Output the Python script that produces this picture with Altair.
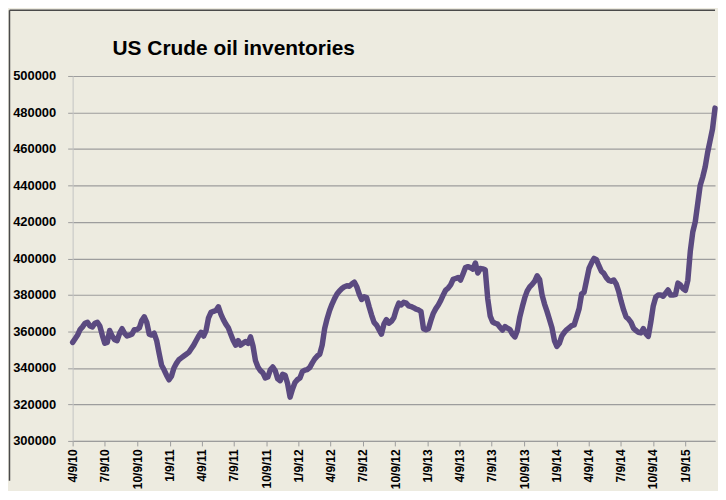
import altair as alt
import pandas as pd

TITLE = "US Crude oil inventories"
START_DATE = "2010-04-09"

# Weekly US crude oil inventories (thousand barrels)
inventory = [
    354000, 356000, 358000, 361000, 362500, 364500, 365000, 363000, 362500, 364500,
    365000, 363000, 358000, 353500, 354000, 360500, 357500, 355500, 355000, 359000,
    361500, 359000, 357500, 358000, 358500, 361000, 361000, 362000, 366000, 368000,
    365000, 358500, 358000, 359000, 355000, 348000, 341500, 339000, 336000, 333500,
    335500, 340000, 342500, 344500, 345500, 346500, 347500, 348500, 350500, 352500,
    355000, 357500, 359500, 357500, 360500, 367500, 370500, 371000, 371500, 373500,
    369500, 366500, 364000, 362000, 358500, 355000, 352500, 355000, 352500, 353500,
    354500, 353500, 357000, 352000, 344000, 340500, 338500, 337300, 334500, 335000,
    339000, 340500, 338500, 334000, 333000, 336500, 336000, 331500, 324000, 328500,
    332000, 333600, 334500, 338000, 338800, 339100, 340300, 342800, 345000, 346500,
    347500, 352500, 361500, 367000, 371500, 375000, 378000, 380500, 382200, 383500,
    384500, 385000, 384800, 386000, 387000, 384500, 380500, 377500, 379000, 378500,
    373500, 369000, 365000, 363500, 361000, 358500, 364000, 366500, 364500, 365500,
    367500, 372000, 375500, 374500, 376000, 375500, 374000, 373600, 373000, 372200,
    371800, 370900, 361500, 360900, 361500, 366000, 370000, 372500, 374500, 377000,
    380000, 382700, 383800, 385500, 388500, 389000, 389500, 388200, 391500, 395000,
    395500, 395000, 394200, 397500, 392000, 394500, 394300, 393800, 378000, 368500,
    365200, 364500, 364000, 362200, 360800, 362700, 361800, 361000, 358500, 357000,
    360500, 368000, 373500, 378500, 382200, 384400, 385800, 387500, 390500, 388500,
    380000, 375000, 371000, 366500, 362000, 355000, 351800, 353500, 357500, 359500,
    361000, 362000, 363200, 363600, 368000, 372500, 380500, 381500, 388000, 394500,
    397500, 400000, 399300, 396000, 393000, 391800, 389500, 388000, 387500, 388200,
    386000, 382000, 376500, 371800, 368000, 366800, 365000, 361800, 360500, 359500,
    359200, 361500, 358800, 357300, 365000, 374000, 378800, 380000, 380000, 379300,
    381000, 382700, 380000, 380000, 380200, 386500, 385500, 383500, 382500, 388000,
    404000, 414500, 420000, 430000, 440000, 444500, 450000, 458000, 464500, 471000,
    482400,
]

y_ticks = [300000, 320000, 340000, 360000, 380000, 400000,
           420000, 440000, 460000, 480000, 500000]

# x tick labels: (year, month, day)
tick_dates = [
    (2010, 4, 9), (2010, 7, 9), (2010, 10, 9),
    (2011, 1, 9), (2011, 4, 9), (2011, 7, 9), (2011, 10, 9),
    (2012, 1, 9), (2012, 4, 9), (2012, 7, 9), (2012, 10, 9),
    (2013, 1, 9), (2013, 4, 9), (2013, 7, 9), (2013, 10, 9),
    (2014, 1, 9), (2014, 4, 9), (2014, 7, 9), (2014, 10, 9),
    (2015, 1, 9),
]

dates = pd.date_range(START_DATE, periods=len(inventory), freq="7D")
df = pd.DataFrame({"date": dates, "stocks": inventory})
last = dates[-1]

W, H = 646, 367
FONT = "Liberation Sans, Arial, sans-serif"
GRID = "#9d9d9d"

x_values = [alt.DateTime(year=y, month=m, date=d) for (y, m, d) in tick_dates]

line = alt.Chart(df).mark_line(
    color="#5b4a80", strokeWidth=5.5, strokeJoin="round", strokeCap="round"
).encode(
    x=alt.X(
        "date:T",
        scale=alt.Scale(domain=[alt.DateTime(year=2010, month=4, date=9),
                                alt.DateTime(year=last.year, month=last.month, date=last.day)]),
        axis=alt.Axis(values=x_values, format="%-m/%-d/%y", labelAngle=-90,
                      title=None, grid=False, tickSize=5, labelPadding=3,
                      labelFontSize=12,
                      domainColor=GRID, tickColor=GRID),
    ),
    y=alt.Y(
        "stocks:Q",
        scale=alt.Scale(domain=[300000, 500000], nice=False, zero=False),
        axis=alt.Axis(values=y_ticks, format="d", title=None, grid=True,
                      gridColor=GRID, gridWidth=1.2, tickSize=5, labelPadding=12,
                      labelFontSize=13,
                      domainColor="#c4c4c4", tickColor=GRID),
    ),
)

frame_data = alt.Data(values=[{"k": 0}])
left_rule = alt.Chart(frame_data).mark_rule(color="#4a4a4a", strokeWidth=1.5).encode(
    x=alt.value(-63.5), y=alt.value(-66), y2=alt.value(H + 40)
)
top_rule = alt.Chart(frame_data).mark_rule(color="#4a4a4a", strokeWidth=1.5).encode(
    x=alt.value(-63.5), x2=alt.value(W), y=alt.value(-66)
)
title_text = alt.Chart(alt.Data(values=[{"t": TITLE}])).mark_text(
    font=FONT, fontSize=21, fontWeight="bold", color="black",
    align="center", baseline="alphabetic",
).encode(
    x=alt.value(162), y=alt.value(-21), text="t:N"
)

chart = alt.layer(line, left_rule, top_rule, title_text).properties(
    width=W,
    height=H,
    background="#edebe0",
    padding={"left": 0, "top": 0, "right": 0, "bottom": 0},
).configure_view(
    stroke=None
).configure_axis(
    labelFont=FONT, labelFontWeight="bold", labelColor="black",
)

chart.save("out.html", embed_options={"renderer": "svg", "actions": False})
